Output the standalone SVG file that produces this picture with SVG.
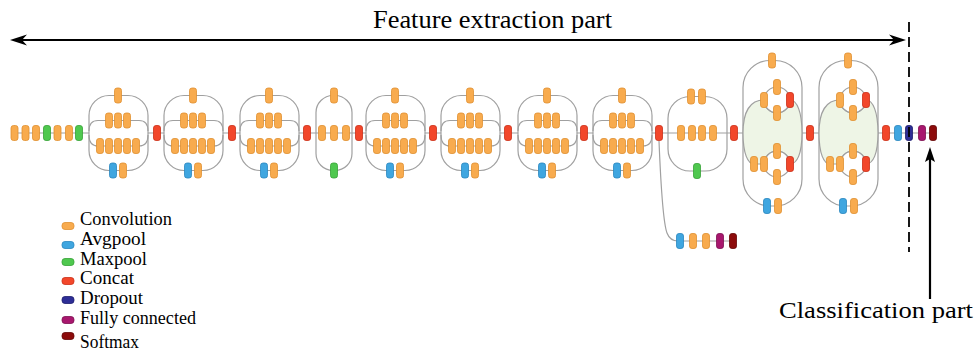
<svg xmlns="http://www.w3.org/2000/svg" xmlns:xlink="http://www.w3.org/1999/xlink" width="977" height="354" viewBox="0 0 977 354">
<style>
.ln{fill:none;stroke:#a0a0a0;stroke-width:1.2}
.reg{fill:#eef5e6;stroke:#a0a0a0;stroke-width:1.2}
.conv{fill:#f8ab4e;stroke:#df8f30;stroke-width:0.8}
.avg{fill:#3fa6e0;stroke:#2a86bf;stroke-width:0.8}
.max{fill:#4fc84f;stroke:#36a236;stroke-width:0.8}
.cat{fill:#f2472b;stroke:#cc2e17;stroke-width:0.8}
.drop{fill:#2e2e96;stroke:#1d1d6e;stroke-width:0.8}
.fc{fill:#a8176e;stroke:#7e0f52;stroke-width:0.8}
.sm{fill:#8c0b0b;stroke:#640505;stroke-width:0.8}
.t{font-family:"Liberation Serif","Times New Roman",serif;fill:#000}
.blk{stroke:#000;stroke-width:2.2}
</style>
<defs>
<rect id="k" width="7" height="15" rx="2.5"/>
<rect id="sw" width="12" height="7" rx="3"/>
<g id="modA">
<rect class="ln" x="-29" y="95.5" width="59" height="75" rx="20"/>
<path class="ln" d="M-29,131 Q-29,120.5 -20,120.5 H21 Q30,120.5 30,131"/>
<path class="ln" d="M-29,135 Q-29,146 -20,146 H21 Q30,146 30,135"/>
</g>
<g id="modAb">
<use href="#k" class="conv" x="-3.5" y="88"/>
<use href="#k" class="conv" x="-12.5" y="113"/>
<use href="#k" class="conv" x="-3.5" y="113"/>
<use href="#k" class="conv" x="5.5" y="113"/>
<use href="#k" class="conv" x="-21.5" y="138.5"/>
<use href="#k" class="conv" x="-12.5" y="138.5"/>
<use href="#k" class="conv" x="-3.5" y="138.5"/>
<use href="#k" class="conv" x="5.5" y="138.5"/>
<use href="#k" class="conv" x="14.5" y="138.5"/>
<use href="#k" class="avg" x="-8.5" y="163"/>
<use href="#k" class="conv" x="1.5" y="163"/>
</g>
<g id="modC">
<rect class="ln" x="-30" y="60.5" width="59" height="145.5" rx="27"/>
<path class="reg" d="M-30,133 C-30,112 -23,100 -9,100 A13 13 0 0 0 17,100 C24,100 29,112 29,133 C29,154 24,164 17,164 A13 13 0 0 0 -9,164 L-19,164 C-25,164 -30,154 -30,133 Z"/>
<circle class="ln" cx="4" cy="100" r="13"/>
<circle class="ln" cx="4" cy="164" r="13"/>
</g>
<g id="modCb">
<use href="#k" class="conv" x="-4.5" y="53"/>
<use href="#k" class="conv" x="0.5" y="79.5"/>
<use href="#k" class="conv" x="-12.5" y="92.5"/>
<use href="#k" class="cat" x="13.5" y="92.5"/>
<use href="#k" class="conv" x="0.5" y="105.5"/>
<use href="#k" class="conv" x="0.5" y="143.5"/>
<use href="#k" class="conv" x="-22.5" y="156.5"/>
<use href="#k" class="conv" x="-12.5" y="156.5"/>
<use href="#k" class="cat" x="13.5" y="156.5"/>
<use href="#k" class="conv" x="0.5" y="169.5"/>
<use href="#k" class="avg" x="-9.5" y="198.5"/>
<use href="#k" class="conv" x="1.5" y="198.5"/>
</g>
</defs>
<g id="connectors">
<path class="ln" d="M14,133 H89 M148,133 H164 M223,133 H240 M299,133 H366 M425,133 H441 M500,133 H518 M577,133 H593 M652,133 H743 M802,133 H819 M878,133 H933"/>
<use href="#modA" x="118"/>
<use href="#modA" x="193"/>
<use href="#modA" x="269"/>
<use href="#modA" x="395"/>
<use href="#modA" x="470"/>
<use href="#modA" x="547"/>
<use href="#modA" x="622"/>
<rect class="ln" x="316" y="95.5" width="36" height="75" rx="17"/>
<rect class="ln" x="668" y="96.5" width="59" height="74.5" rx="22"/>
<use href="#modC" x="773"/>
<use href="#modC" x="849"/>
<path class="ln" d="M659,141 C661,190 664,225 667,233 Q670,241 678,241 H733"/>
</g>
<g id="stem">
<use href="#k" class="conv" x="11" y="125.5"/>
<use href="#k" class="conv" x="22" y="125.5"/>
<use href="#k" class="conv" x="32.5" y="125.5"/>
<use href="#k" class="max" x="43.5" y="125.5"/>
<use href="#k" class="conv" x="54" y="125.5"/>
<use href="#k" class="conv" x="65.5" y="125.5"/>
<use href="#k" class="max" x="75.5" y="125.5"/>
</g>
<g id="inceptionA1"><use href="#modAb" x="118"/></g>
<g id="inceptionA2"><use href="#modAb" x="193"/></g>
<g id="inceptionA3"><use href="#modAb" x="269"/></g>
<g id="reductionA">
<use href="#k" class="conv" x="330.5" y="88"/>
<use href="#k" class="conv" x="318.5" y="125.5"/>
<use href="#k" class="conv" x="330.5" y="125.5"/>
<use href="#k" class="conv" x="342.5" y="125.5"/>
<use href="#k" class="max" x="330.5" y="163"/>
</g>
<g id="inceptionB1"><use href="#modAb" x="395"/></g>
<g id="inceptionB2"><use href="#modAb" x="470"/></g>
<g id="inceptionB3"><use href="#modAb" x="547"/></g>
<g id="inceptionB4"><use href="#modAb" x="622"/></g>
<g id="reductionB">
<use href="#k" class="conv" x="687.5" y="89"/>
<use href="#k" class="conv" x="698.5" y="89"/>
<use href="#k" class="conv" x="677.5" y="125.5"/>
<use href="#k" class="conv" x="688.5" y="125.5"/>
<use href="#k" class="conv" x="698.5" y="125.5"/>
<use href="#k" class="conv" x="709.5" y="125.5"/>
<use href="#k" class="max" x="693.5" y="163.5"/>
</g>
<g id="inceptionC1"><use href="#modCb" x="773"/></g>
<g id="inceptionC2"><use href="#modCb" x="849"/></g>
<g id="concats">
<use href="#k" class="cat" x="153.5" y="125.5"/>
<use href="#k" class="cat" x="228.5" y="125.5"/>
<use href="#k" class="cat" x="303.5" y="125.5"/>
<use href="#k" class="cat" x="355.5" y="125.5"/>
<use href="#k" class="cat" x="429.5" y="125.5"/>
<use href="#k" class="cat" x="504.5" y="125.5"/>
<use href="#k" class="cat" x="580.5" y="125.5"/>
<use href="#k" class="cat" x="655.5" y="125.5"/>
<use href="#k" class="cat" x="730.5" y="125.5"/>
<use href="#k" class="cat" x="806.5" y="125.5"/>
<use href="#k" class="cat" x="882.5" y="125.5"/>
</g>
<g id="auxiliary">
<use href="#k" class="avg" x="676.5" y="233.5"/>
<use href="#k" class="conv" x="689.5" y="233.5"/>
<use href="#k" class="conv" x="702.5" y="233.5"/>
<use href="#k" class="fc" x="716.5" y="233.5"/>
<use href="#k" class="sm" x="729.5" y="233.5"/>
</g>
<g id="classifier">
<use href="#k" class="avg" x="894.5" y="125.5"/>
<use href="#k" class="drop" x="905.5" y="125.5"/>
<use href="#k" class="fc" x="918.5" y="125.5"/>
<use href="#k" class="sm" x="929.5" y="125.5"/>
</g>
<g id="annotations">
<line class="blk" x1="20" y1="40" x2="896" y2="40"/>
<polygon points="10,40 27,34.5 22,40 27,45.5" fill="#000"/>
<polygon points="906,40 889,34.5 894,40 889,45.5" fill="#000"/>
<text class="t" x="373" y="28" font-size="26" textLength="239" lengthAdjust="spacingAndGlyphs">Feature extraction part</text>
<line x1="909" y1="22" x2="909" y2="252" stroke="#000" stroke-width="1.8" stroke-dasharray="10 5"/>
<line class="blk" x1="930" y1="158" x2="930" y2="299"/>
<polygon points="930,147 925,162 930,159 935,162" fill="#000"/>
<text class="t" x="779" y="318" font-size="24" textLength="194" lengthAdjust="spacingAndGlyphs">Classification part</text>
</g>
<g id="legend">
<use href="#sw" class="conv" x="62" y="222.5"/>
<use href="#sw" class="avg" x="62" y="241.5"/>
<use href="#sw" class="max" x="62" y="258.5"/>
<use href="#sw" class="cat" x="62" y="277.5"/>
<use href="#sw" class="drop" x="62" y="296.5"/>
<use href="#sw" class="fc" x="62" y="316.5"/>
<use href="#sw" class="sm" x="62" y="332.5"/>
<text class="t" font-size="18" x="80" y="225" textLength="92" lengthAdjust="spacingAndGlyphs">Convolution</text>
<text class="t" font-size="18" x="80" y="245" textLength="66" lengthAdjust="spacingAndGlyphs">Avgpool</text>
<text class="t" font-size="18" x="80" y="265" textLength="67" lengthAdjust="spacingAndGlyphs">Maxpool</text>
<text class="t" font-size="18" x="80" y="284" textLength="54" lengthAdjust="spacingAndGlyphs">Concat</text>
<text class="t" font-size="18" x="80" y="304" textLength="63" lengthAdjust="spacingAndGlyphs">Dropout</text>
<text class="t" font-size="18" x="80" y="324" textLength="116" lengthAdjust="spacingAndGlyphs">Fully connected</text>
<text class="t" font-size="18" x="80" y="348" textLength="59" lengthAdjust="spacingAndGlyphs">Softmax</text>
</g>
</svg>
